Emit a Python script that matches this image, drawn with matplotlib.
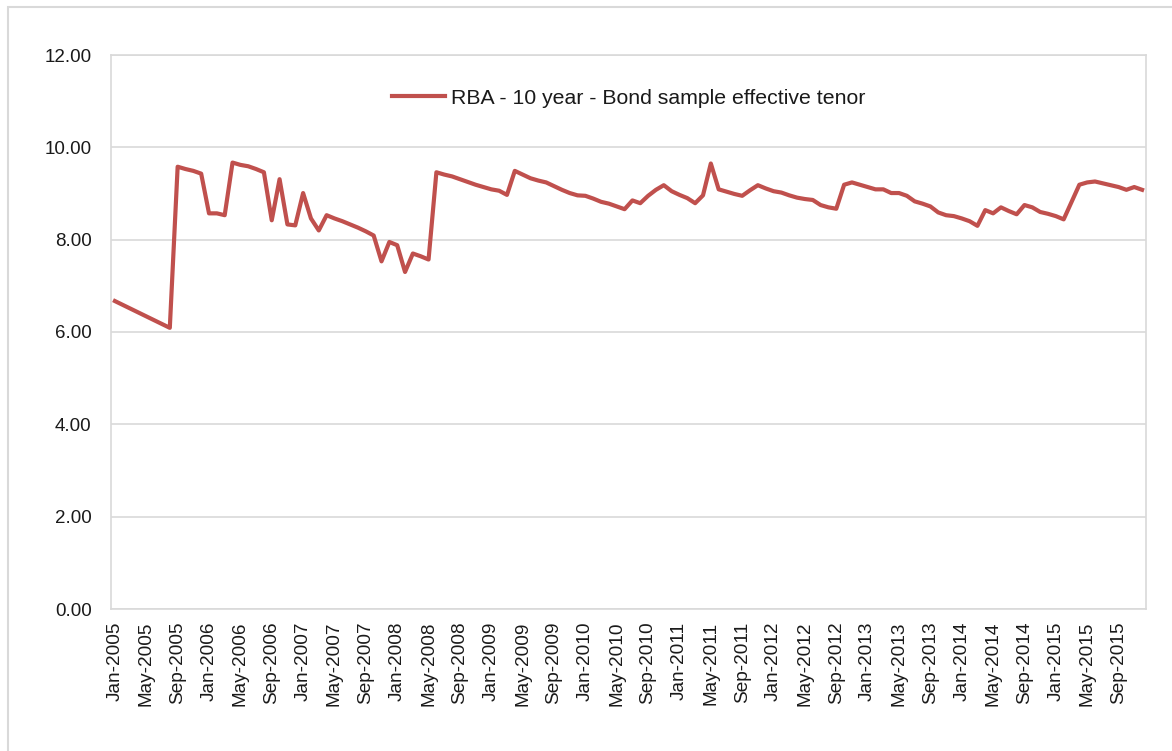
import numpy as np
import matplotlib
matplotlib.use("Agg")
import matplotlib.pyplot as plt
from matplotlib.patches import Rectangle

plt.rcParams['font.family'] = ['Liberation Sans', 'DejaVu Sans']

# month index counted from Jan-2005 (0) to Dec-2015 (131); some early months are missing
month_idx = [0, 7, 8, 9, 10, 11, 12, 13, 14, 15, 16, 17, 18, 19, 20, 21, 22, 23,
             24, 25, 26, 27, 28, 29, 30, 31, 32, 33, 34, 35, 36, 37, 38, 39, 40, 41,
             42, 43, 44, 45, 46, 47, 48, 49, 50, 51, 52, 53, 54, 55, 56, 57, 58, 59,
             60, 61, 62, 63, 64, 65, 66, 67, 68, 69, 70, 71, 72, 73, 74, 75, 76, 77,
             78, 79, 80, 81, 82, 83, 84, 85, 86, 87, 88, 89, 90, 91, 92, 93, 94, 95,
             96, 97, 98, 99, 100, 101, 102, 103, 104, 105, 106, 107, 108, 109, 110, 111,
             112, 113, 114, 115, 116, 117, 118, 119, 120, 121, 123, 124, 125, 126, 127,
             128, 129, 130, 131]
tenor = [6.67, 6.09, 9.58, 9.53, 9.49, 9.43, 8.57, 8.57, 8.53, 9.67, 9.62, 9.59, 9.53, 9.46,
         8.42, 9.31, 8.33, 8.31,
         9.01, 8.46, 8.20, 8.53, 8.46, 8.40, 8.33, 8.26, 8.18, 8.09, 7.53, 7.95,
         7.88, 7.30, 7.70, 7.64, 7.57, 9.46, 9.41, 9.37, 9.31, 9.25, 9.19, 9.14,
         9.09, 9.06, 8.97, 9.49, 9.41, 9.33, 9.28, 9.24, 9.16, 9.08, 9.01, 8.96,
         8.95, 8.89, 8.82, 8.78, 8.72, 8.66, 8.85, 8.79, 8.95, 9.08, 9.18, 9.05,
         8.97, 8.90, 8.79, 8.96, 9.65, 9.09, 9.04, 8.99, 8.95, 9.07, 9.18, 9.11,
         9.05, 9.02, 8.96, 8.91, 8.88, 8.86, 8.75, 8.70, 8.67, 9.19, 9.24, 9.19,
         9.14, 9.09, 9.09, 9.01, 9.01, 8.95, 8.83, 8.78, 8.72, 8.59, 8.53, 8.51,
         8.46, 8.40, 8.30, 8.64, 8.57, 8.70, 8.62, 8.55, 8.75, 8.70, 8.60, 8.56,
         8.51, 8.44, 9.19, 9.24, 9.26, 9.22, 9.18, 9.14, 9.08, 9.14, 9.08]

month_names = ["Jan", "May", "Sep"]
tick_pos = list(range(0, 132, 4))
tick_labels = [f"{month_names[(p // 4) % 3]}-{2005 + p // 12}" for p in tick_pos]

fig = plt.figure(figsize=(11.72, 7.51), dpi=100)
ax = fig.add_axes([111 / 1172, 1 - 609 / 751, 1035 / 1172, 554 / 751])

# outer chart border
fig.patches.append(Rectangle((8 / 1172, -0.05), 1.2, 1 - 7 / 751 + 0.05,
                             transform=fig.transFigure, fill=False,
                             edgecolor='#d9d9d9', linewidth=1.5))

ax.plot(month_idx, tenor, color='#C0504D', linewidth=3.0,
        label='RBA - 10 year - Bond sample effective tenor', solid_joinstyle='round')

ax.set_xlim(-0.5, 131.5)
ax.set_ylim(0, 12)
ax.set_yticks(np.arange(0, 12.01, 2))
ax.set_yticklabels([f"{v:.2f}" for v in np.arange(0, 12.01, 2)])
ax.set_xticks(tick_pos)
ax.set_xticklabels(tick_labels, rotation=90)
ax.tick_params(axis='y', length=0, pad=14, labelsize=13.5, labelcolor='#1a1a1a')
ax.tick_params(axis='x', length=0, pad=9, labelsize=13.7, labelcolor='#1a1a1a')

ax.grid(axis='y', color='#d9d9d9', linewidth=1.2)
ax.set_axisbelow(True)
for s in ax.spines.values():
    s.set_color('#d9d9d9')
    s.set_linewidth(1.2)

ax.legend(loc='center', bbox_to_anchor=(0.5, 0.922), frameon=False,
          fontsize=15.3, handlelength=2.5, handletextpad=0.25, labelcolor='#1a1a1a')

fig.savefig("out.png", dpi=100)
